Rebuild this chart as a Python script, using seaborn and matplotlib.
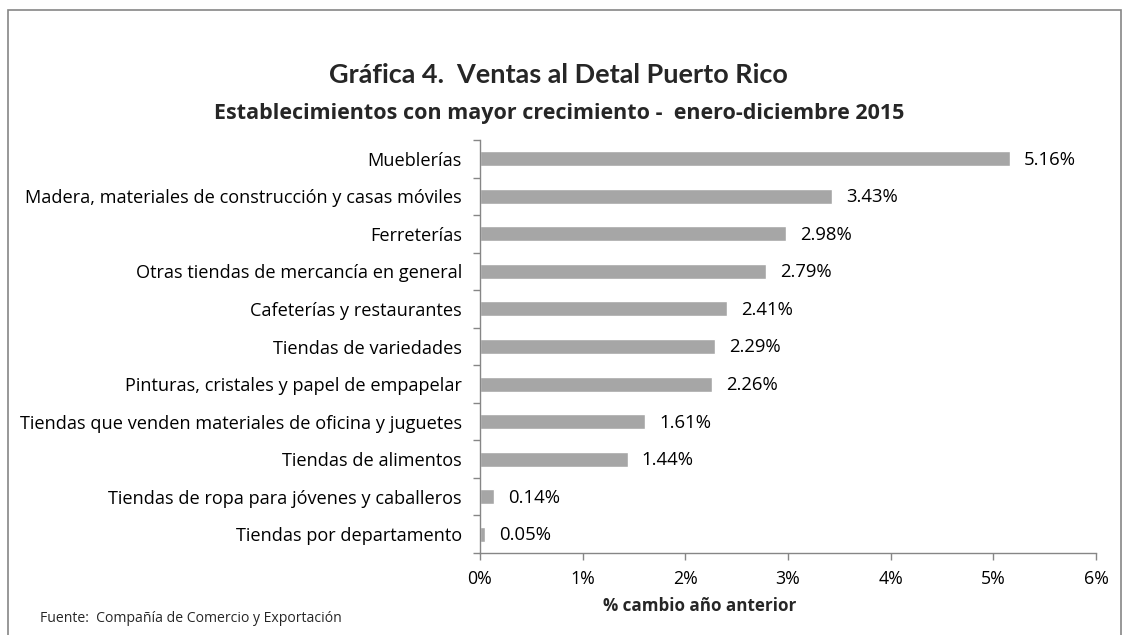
import matplotlib
matplotlib.use("Agg")
import matplotlib.pyplot as plt
import seaborn as sns
import pandas as pd
from matplotlib.patches import Rectangle
from matplotlib.ticker import FixedLocator

categories = [
    "Mueblerías",
    "Madera, materiales de construcción y casas móviles",
    "Ferreterías",
    "Otras tiendas de mercancía en general",
    "Cafeterías y restaurantes",
    "Tiendas de variedades",
    "Pinturas, cristales y papel de empapelar",
    "Tiendas que venden materiales de oficina y juguetes",
    "Tiendas de alimentos",
    "Tiendas de ropa para jóvenes y caballeros",
    "Tiendas por departamento",
]
values = [5.16, 3.43, 2.98, 2.79, 2.41, 2.29, 2.26, 1.61, 1.44, 0.14, 0.05]
x_ticks = [0, 1, 2, 3, 4, 5, 6]
x_tick_labels = ["0%", "1%", "2%", "3%", "4%", "5%", "6%"]

df = pd.DataFrame({"cat": categories, "val": values})

sns.set_theme(style="white")
FAM = ["Open Sans", "DejaVu Sans"]
TITLE_FAM = ["Lato", "DejaVu Sans"]
plt.rcParams["font.family"] = FAM

W, H = 1122, 635
fig = plt.figure(figsize=(W / 100, H / 100), dpi=100)
renderer = fig.canvas.get_renderer()


def fitted_size(s, target_w, weight="normal", family=FAM, base=12.0):
    t = fig.text(0, 0, s, fontsize=base, fontweight=weight, family=family)
    w = t.get_window_extent(renderer).width
    t.remove()
    return base * target_w / w


lab_fs = fitted_size("Tiendas que venden materiales de oficina y juguetes", 441)
val_fs = fitted_size("5.16%", 52)
tick_fs = fitted_size("6%", 25)
title_fs = fitted_size("Gráfica 4.  Ventas al Detal Puerto Rico", 456, "bold", TITLE_FAM)
sub_fs = fitted_size("Establecimientos con mayor crecimiento -  enero-diciembre 2015", 687, "bold")
xlab_fs = fitted_size("% cambio año anterior", 192, "bold")
src_fs = fitted_size("Fuente:  Compañía de Comercio y Exportación", 299)

ax = fig.add_axes([480 / W, 1 - 553 / H, (1096 - 480) / W, (553 - 140) / H])

sns.barplot(data=df, y="cat", x="val", orient="h", color="#A6A6A6",
            saturation=1, width=0.4, ax=ax)

ax.set_xlim(0, 6)
ax.set_ylim(len(categories) - 0.5, -0.5)
ax.set_xticks(x_ticks)
ax.set_xticklabels(x_tick_labels, fontsize=tick_fs, color="#000000")
ax.set_ylabel("")
ax.set_xlabel("")
ax.tick_params(axis="y", length=0, pad=13, labelsize=lab_fs, labelcolor="#000000")
ax.yaxis.set_minor_locator(FixedLocator([i - 0.5 for i in range(len(categories) + 1)]))
ax.tick_params(axis="y", which="minor", length=5, width=1, color="#868686", direction="out", left=True)
ax.tick_params(axis="x", length=5, width=1, color="#868686", direction="out", bottom=True, pad=7)

for s in ["top", "right"]:
    ax.spines[s].set_visible(False)
for s in ["left", "bottom"]:
    ax.spines[s].set_color("#868686")
    ax.spines[s].set_linewidth(1)

for i, v in enumerate(values):
    ax.annotate(f"{v:.2f}%", xy=(v, i), xytext=(14, -1), textcoords="offset pixels",
                va="center", ha="left", fontsize=val_fs, color="#000000")

fig.text(558 / W, 1 - 75 / H, "Gráfica 4.  Ventas al Detal Puerto Rico", ha="center", va="center",
         fontsize=title_fs, fontweight="bold", family=TITLE_FAM)
fig.text(559 / W, 1 - 113 / H, "Establecimientos con mayor crecimiento -  enero-diciembre 2015",
         ha="center", va="center", fontsize=sub_fs, fontweight="bold")
fig.text(700 / W, 1 - 606 / H, "% cambio año anterior", ha="center", va="center",
         fontsize=xlab_fs, fontweight="bold")
fig.text(40 / W, 1 - 618 / H, "Fuente:  Compañía de Comercio y Exportación", ha="left", va="center",
         fontsize=src_fs)

fig.patches.append(Rectangle((8 / W, -0.05), (1121 - 8) / W, 1 - 10 / H + 0.05,
                             transform=fig.transFigure, fill=False,
                             edgecolor="#868686", linewidth=1.2))

fig.savefig("out.png", dpi=100)
